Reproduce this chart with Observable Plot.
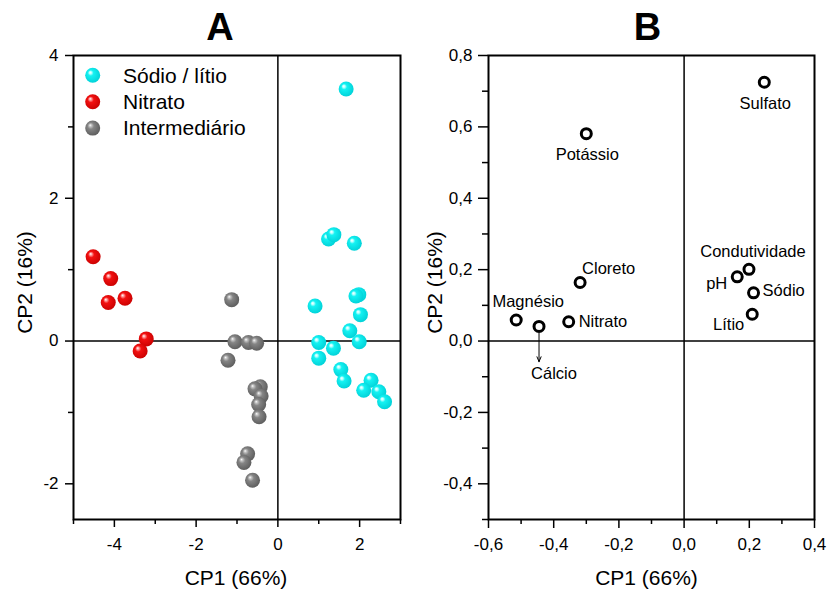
<!DOCTYPE html>
<html>
<head>
<meta charset="utf-8">
<script src="https://cdn.jsdelivr.net/npm/d3@7"></script>
<script src="https://cdn.jsdelivr.net/npm/@observablehq/plot@0.6"></script>
<style>
  html, body { margin: 0; padding: 0; background: #fff; }
  #wrap { position: relative; width: 827px; height: 590px; font-family: 'Liberation Sans', Arial, sans-serif; }
  .panel { position: absolute; top: 0; }
  #legend { position: absolute; left: 0; top: 0; }
</style>
</head>
<body>
<svg width="0" height="0" style="position:absolute">
  <defs>
    <radialGradient id="gCyan" cx="0.45" cy="0.45" r="0.6" fx="0.33" fy="0.3">
      <stop offset="0" stop-color="#ffffff"/>
      <stop offset="0.14" stop-color="#b8ffff"/>
      <stop offset="0.32" stop-color="#14f2f2"/>
      <stop offset="1" stop-color="#00cfd6"/>
    </radialGradient>
    <radialGradient id="gRed" cx="0.45" cy="0.45" r="0.6" fx="0.33" fy="0.3">
      <stop offset="0" stop-color="#ffffff"/>
      <stop offset="0.14" stop-color="#ff9a9a"/>
      <stop offset="0.34" stop-color="#f21010"/>
      <stop offset="1" stop-color="#c80000"/>
    </radialGradient>
    <radialGradient id="gGray" cx="0.45" cy="0.45" r="0.6" fx="0.33" fy="0.3">
      <stop offset="0" stop-color="#ffffff"/>
      <stop offset="0.14" stop-color="#c4c4c4"/>
      <stop offset="0.36" stop-color="#858585"/>
      <stop offset="1" stop-color="#5a5a5a"/>
    </radialGradient>
  </defs>
</svg>
<div id="wrap"></div>
<script>
// ---------- Panel A: scores ----------
const sodioLitio = [
  [1.67, 3.53], [1.24, 1.43], [1.37, 1.49], [1.87, 1.37],
  [1.98, 0.65], [1.91, 0.63], [0.91, 0.49], [2.02, 0.37], [1.76, 0.145],
  [1.00, -0.02], [1.99, -0.01], [1.36, -0.10], [1.00, -0.24],
  [1.54, -0.40], [1.62, -0.56], [2.28, -0.55], [2.10, -0.69], [2.47, -0.71], [2.61, -0.85]
];
const nitrato = [
  [-4.52, 1.18], [-4.09, 0.875], [-4.15, 0.54], [-3.74, 0.60], [-3.22, 0.03], [-3.37, -0.14]
];
const intermediario = [
  [-1.13, 0.58], [-1.05, -0.01], [-0.72, -0.02], [-0.52, -0.03], [-1.22, -0.27],
  [-0.43, -0.64], [-0.56, -0.67], [-0.41, -0.77], [-0.47, -0.89], [-0.46, -1.06],
  [-0.74, -1.58], [-0.83, -1.70], [-0.62, -1.95]
];
const groupNames = ["Sódio / lítio", "Nitrato", "Intermediário"];
const groupFills = ["url(#gCyan)", "url(#gRed)", "url(#gGray)"];

const aMajorX = [-4, -2, 0, 2];
const aMinorX = [-5, -3, -1, 1, 3];
const aMajorY = [-2, 0, 2, 4];
const aMinorY = [-1, 1, 3];

// ---------- Panel B: loadings ----------
const loadingNames = ["Sulfato", "Potássio", "Cloreto", "Magnésio", "Cálcio", "Nitrato",
                      "Condutividade", "pH", "Sódio", "Lítio"];
const loadingCP1 = [0.246, -0.300, -0.319, -0.515, -0.445, -0.354, 0.199, 0.163, 0.213, 0.209];
const loadingCP2 = [0.725, 0.581, 0.164, 0.059, 0.041, 0.054, 0.201, 0.180, 0.135, 0.075];
const calcioArrowEnd = -0.058;

const bMajorX = [-0.6, -0.4, -0.2, 0, 0.2, 0.4];
const bMinorX = [-0.5, -0.3, -0.1, 0.1, 0.3];
const bMajorY = [-0.4, -0.2, 0, 0.2, 0.4, 0.6, 0.8];
const bMinorY = [-0.5, -0.3, -0.1, 0.1, 0.3, 0.5, 0.7];

// label placement (pixel offsets)
const labelPlace = {
  "Sulfato":       {dx: 1,  dy: 21,  anchor: "middle"},
  "Potássio":      {dx: 1,  dy: 21,  anchor: "middle"},
  "Cloreto":       {dx: 2,  dy: -14, anchor: "start"},
  "Magnésio":      {dx: 12, dy: -18, anchor: "middle"},
  "Cálcio":        {dx: 15, dy: 47,  anchor: "middle"},
  "Nitrato":       {dx: 10, dy: 0,   anchor: "start"},
  "Condutividade": {dx: 4,  dy: -18, anchor: "middle"},
  "pH":            {dx: -10, dy: 7,  anchor: "end"},
  "Sódio":         {dx: 9,  dy: -2,  anchor: "start"},
  "Lítio":         {dx: -8, dy: 10,  anchor: "end"}
};

const FONT = "'Liberation Sans', Arial, Helvetica, sans-serif";
const commaFmt = v => (Math.abs(v) < 1e-9 ? 0 : v).toFixed(1).replace(".", ",");
const baseStyle = {fontFamily: FONT, fontSize: "17px", color: "#000", background: "transparent", overflow: "visible"};

function commonText(title, titleDx, xLabelDx, yLabelDx) {
  return [
    Plot.text([title], {frameAnchor: "top", text: d => d, dy: -28, dx: titleDx, fontSize: 38, fontWeight: "bold",
      textAnchor: "middle", lineAnchor: "middle", fontFamily: FONT}),
    Plot.text(["CP1 (66%)"], {frameAnchor: "bottom", text: d => d, dy: 59, dx: xLabelDx, fontSize: 21,
      textAnchor: "middle", lineAnchor: "middle"}),
    Plot.text(["CP2 (16%)"], {frameAnchor: "left", text: d => d, dx: yLabelDx, dy: -5, rotate: -90, fontSize: 21,
      textAnchor: "middle", lineAnchor: "middle"})
  ];
}

const plotA = Plot.plot({
  width: 413, height: 590,
  marginLeft: 73, marginRight: 13, marginTop: 55, marginBottom: 71,
  style: baseStyle,
  x: {domain: [-5, 3]},
  y: {domain: [-2.5, 4]},
  marks: [
    Plot.ruleX([0], {strokeWidth: 1.5}),
    Plot.ruleY([0], {strokeWidth: 1.5}),
    Plot.axisX(aMajorX, {tickSize: 8, tickPadding: 10, tickFormat: d => String(d), label: null, strokeWidth: 1.5}),
    Plot.axisX(aMinorX, {tickSize: 5, tickFormat: () => "", label: null, strokeWidth: 1.5}),
    Plot.axisY(aMajorY, {tickSize: 8, tickPadding: 7, tickFormat: d => String(d), label: null, strokeWidth: 1.5}),
    Plot.axisY(aMinorY, {tickSize: 5, tickFormat: () => "", label: null, strokeWidth: 1.5}),
    Plot.dot(intermediario, {x: d => d[0], y: d => d[1], r: 7.5, fill: groupFills[2]}),
    Plot.dot(nitrato, {x: d => d[0], y: d => d[1], r: 7.5, fill: groupFills[1]}),
    Plot.dot(sodioLitio, {x: d => d[0], y: d => d[1], r: 7.5, fill: groupFills[0]}),
    Plot.frame({strokeWidth: 2}),
    ...commonText("A", -17, -1, -48)
  ]
});

const loadings = loadingNames.map((n, i) => ({name: n, x: loadingCP1[i], y: loadingCP2[i]}));
const calcio = loadings.find(d => d.name === "Cálcio");

const plotB = Plot.plot({
  width: 414, height: 590,
  marginLeft: 75, marginRight: 13, marginTop: 55, marginBottom: 71,
  style: baseStyle,
  x: {domain: [-0.6, 0.4]},
  y: {domain: [-0.5, 0.8]},
  marks: [
    Plot.ruleX([0], {strokeWidth: 1.5}),
    Plot.ruleY([0], {strokeWidth: 1.5}),
    Plot.axisX(bMajorX, {tickSize: 9, tickPadding: 9, tickFormat: commaFmt, label: null, strokeWidth: 1.5}),
    Plot.axisX(bMinorX, {tickSize: 5, tickFormat: () => "", label: null, strokeWidth: 1.5}),
    Plot.axisY(bMajorY, {tickSize: 10, tickPadding: 6, tickFormat: commaFmt, label: null, strokeWidth: 1.5}),
    Plot.axisY(bMinorY, {tickSize: 6, tickFormat: () => "", label: null, strokeWidth: 1.5}),
    Plot.arrow([calcio], {x1: "x", y1: "y", x2: "x", y2: () => calcioArrowEnd, insetStart: 7,
      headLength: 8, headAngle: 45, strokeWidth: 1, stroke: "#000"}),
    Plot.dot(loadings, {x: "x", y: "y", r: 5, stroke: "#000", strokeWidth: 3, fill: "none"}),
    ...loadings.map(d => {
      const p = labelPlace[d.name];
      return Plot.text([d], {x: "x", y: "y", text: "name", dx: p.dx, dy: p.dy, textAnchor: p.anchor,
        lineAnchor: "middle", fontSize: 16.5});
    }),
    Plot.frame({strokeWidth: 2}),
    ...commonText("B", -4, -5, -53)
  ]
});

const wrap = document.getElementById("wrap");
const pa = document.createElement("div"); pa.className = "panel"; pa.style.left = "0px"; pa.appendChild(plotA);
const pb = document.createElement("div"); pb.className = "panel"; pb.style.left = "413px"; pb.appendChild(plotB);
wrap.appendChild(pa); wrap.appendChild(pb);

// legend for panel A
const ns = "http://www.w3.org/2000/svg";
const leg = document.createElementNS(ns, "svg");
leg.setAttribute("id", "legend");
leg.setAttribute("width", "300"); leg.setAttribute("height", "150");
groupNames.forEach((name, i) => {
  const cy = 75.3 + i * 26.4;
  const c = document.createElementNS(ns, "circle");
  c.setAttribute("cx", 92.7); c.setAttribute("cy", cy); c.setAttribute("r", 7.5);
  c.setAttribute("fill", groupFills[i]);
  leg.appendChild(c);
  const t = document.createElementNS(ns, "text");
  t.setAttribute("x", 123); t.setAttribute("y", cy); t.setAttribute("dy", "0.35em");
  t.setAttribute("font-size", "21"); t.setAttribute("font-family", FONT);
  t.textContent = name;
  leg.appendChild(t);
});
wrap.appendChild(leg);
</script>
</body>
</html>
